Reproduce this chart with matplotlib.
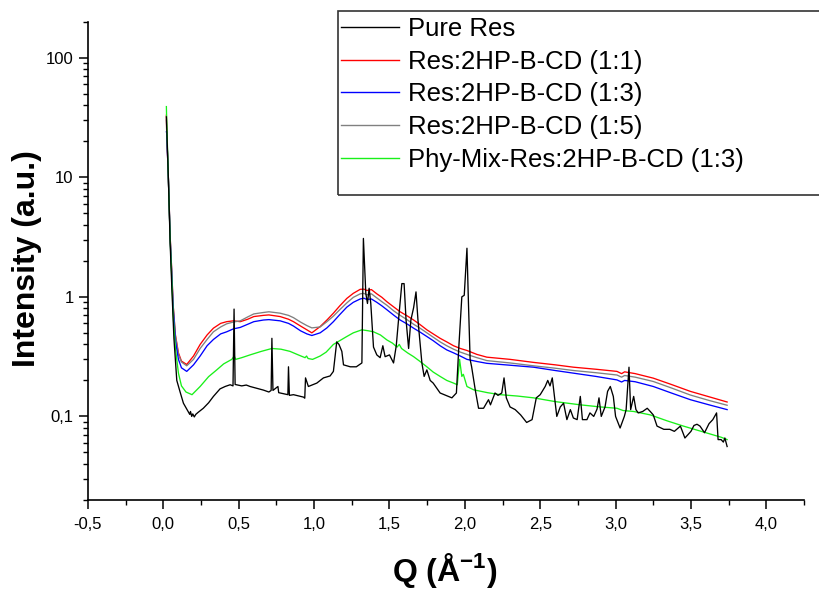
import matplotlib
matplotlib.use("Agg")
import matplotlib.pyplot as plt
from matplotlib.ticker import FixedLocator, FuncFormatter, LogLocator, NullFormatter, MultipleLocator
from matplotlib.patches import Rectangle

# ---------------- data ----------------
labels = ["Pure Res", "Res:2HP-B-CD (1:1)", "Res:2HP-B-CD (1:3)",
          "Res:2HP-B-CD (1:5)", "Phy-Mix-Res:2HP-B-CD (1:3)"]
colors = ["#000000", "#ff0000", "#0000ff", "#808080", "#19f019"]

q_black = [0.020, 0.033, 0.045, 0.056, 0.070, 0.089, 0.111, 0.133, 0.160, 0.175, 0.180, 0.188, 0.195, 0.205,
           0.215, 0.230, 0.265, 0.300, 0.332, 0.376, 0.410, 0.443, 0.462, 0.469, 0.476, 0.520, 0.550, 0.575,
           0.620, 0.664, 0.700, 0.715, 0.720, 0.727, 0.760, 0.765, 0.796, 0.826, 0.830, 0.836, 0.863, 0.900,
           0.930, 0.938, 0.943, 0.962, 1.018, 1.062, 1.106, 1.128, 1.150, 1.165, 1.184, 1.195, 1.240, 1.280,
           1.317, 1.327, 1.343, 1.354, 1.365, 1.376, 1.394, 1.416, 1.438, 1.456, 1.471, 1.500, 1.527, 1.545,
           1.560, 1.582, 1.597, 1.610, 1.627, 1.642, 1.660, 1.676, 1.689, 1.715, 1.730, 1.748, 1.770, 1.790,
           1.836, 1.880, 1.914, 1.944, 1.960, 1.980, 1.996, 2.014, 2.024, 2.035, 2.045, 2.069, 2.091, 2.124,
           2.157, 2.170, 2.200, 2.220, 2.245, 2.260, 2.275, 2.300, 2.334, 2.370, 2.410, 2.446, 2.474, 2.500,
           2.533, 2.550, 2.565, 2.580, 2.600, 2.610, 2.633, 2.655, 2.677, 2.700, 2.720, 2.745, 2.766, 2.780,
           2.810, 2.830, 2.855, 2.877, 2.890, 2.905, 2.930, 2.947, 2.965, 2.985, 3.000, 3.030, 3.058, 3.070,
           3.089, 3.100, 3.120, 3.135, 3.150, 3.180, 3.210, 3.230, 3.250, 3.275, 3.320, 3.360, 3.390, 3.430,
           3.460, 3.500, 3.520, 3.540, 3.560, 3.590, 3.620, 3.645, 3.670, 3.680, 3.700, 3.715, 3.725, 3.740]
i_black = [32, 10, 2.8, 1.2, 0.45, 0.20, 0.16, 0.129, 0.112, 0.104, 0.110, 0.100, 0.105, 0.099,
           0.104, 0.108, 0.117, 0.130, 0.147, 0.170, 0.178, 0.184, 0.180, 0.79, 0.185, 0.180, 0.183, 0.178,
           0.172, 0.166, 0.160, 0.165, 0.45, 0.165, 0.178, 0.158, 0.155, 0.152, 0.26, 0.150, 0.152, 0.148,
           0.145, 0.142, 0.21, 0.178, 0.190, 0.210, 0.218, 0.238, 0.42, 0.40, 0.35, 0.27, 0.26, 0.26,
           0.28, 3.08, 1.07, 0.88, 1.18, 0.88, 0.38, 0.327, 0.31, 0.39, 0.316, 0.327, 0.28, 0.39,
           0.64, 1.29, 1.29, 0.64, 0.37, 0.64, 0.81, 1.10, 0.64, 0.28, 0.216, 0.245, 0.20, 0.19,
           0.157, 0.149, 0.143, 0.157, 0.38, 1.00, 1.03, 2.55, 0.88, 0.30, 0.26, 0.167, 0.117, 0.117,
           0.138, 0.125, 0.157, 0.150, 0.157, 0.21, 0.143, 0.120, 0.114, 0.103, 0.089, 0.094, 0.143, 0.152,
           0.178, 0.20, 0.18, 0.21, 0.129, 0.100, 0.120, 0.129, 0.094, 0.114, 0.097, 0.094, 0.147, 0.094,
           0.094, 0.107, 0.100, 0.115, 0.143, 0.100, 0.120, 0.162, 0.178, 0.147, 0.100, 0.080, 0.100, 0.114,
           0.258, 0.114, 0.147, 0.114, 0.107, 0.110, 0.117, 0.110, 0.103, 0.083, 0.078, 0.078, 0.075, 0.083,
           0.066, 0.075, 0.084, 0.086, 0.083, 0.073, 0.087, 0.094, 0.107, 0.064, 0.064, 0.061, 0.066, 0.056]

q_std = [0.020, 0.022, 0.033, 0.045, 0.056, 0.065, 0.080, 0.100, 0.120, 0.155, 0.200, 0.244, 0.290, 0.332,
         0.380, 0.420, 0.465, 0.510, 0.560, 0.600, 0.664, 0.700, 0.775, 0.830, 0.863, 0.910, 0.952, 0.985,
         1.040, 1.085, 1.128, 1.170, 1.217, 1.260, 1.306, 1.330, 1.350, 1.380, 1.416, 1.450, 1.483, 1.530,
         1.571, 1.620, 1.660, 1.700, 1.748, 1.790, 1.836, 1.880, 1.925, 1.970, 2.014, 2.080, 2.146, 2.300,
         2.456, 2.600, 2.721, 2.870, 3.009, 3.040, 3.060, 3.130, 3.250, 3.370, 3.496, 3.620, 3.740]
i_red = [33, 24, 10, 3.2, 1.6, 0.85, 0.48, 0.34, 0.29, 0.272, 0.32, 0.40, 0.48, 0.547,
         0.60, 0.62, 0.63, 0.62, 0.65, 0.684, 0.70, 0.706, 0.684, 0.65, 0.62, 0.57, 0.53, 0.50,
         0.564, 0.64, 0.73, 0.84, 0.97, 1.07, 1.156, 1.16, 1.13, 1.15, 1.06, 0.99, 0.91, 0.82,
         0.75, 0.69, 0.64, 0.59, 0.53, 0.49, 0.45, 0.42, 0.39, 0.37, 0.356, 0.33, 0.313, 0.30,
         0.283, 0.27, 0.258, 0.248, 0.238, 0.228, 0.236, 0.228, 0.209, 0.185, 0.162, 0.146, 0.132]
i_gray = [30, 24, 10, 3.2, 1.6, 0.85, 0.47, 0.33, 0.285, 0.265, 0.30, 0.37, 0.44, 0.51,
          0.56, 0.595, 0.616, 0.63, 0.68, 0.72, 0.74, 0.75, 0.73, 0.70, 0.67, 0.615, 0.575, 0.55,
          0.56, 0.62, 0.69, 0.78, 0.89, 0.99, 1.06, 1.07, 1.04, 1.06, 0.98, 0.91, 0.85, 0.76,
          0.70, 0.64, 0.59, 0.55, 0.50, 0.46, 0.42, 0.39, 0.365, 0.345, 0.33, 0.31, 0.293, 0.28,
          0.265, 0.253, 0.242, 0.232, 0.222, 0.213, 0.220, 0.213, 0.196, 0.173, 0.151, 0.136, 0.124]
i_blue = [24, 24, 10, 3.1, 1.5, 0.80, 0.43, 0.30, 0.255, 0.238, 0.27, 0.32, 0.39, 0.44,
          0.49, 0.51, 0.54, 0.555, 0.59, 0.62, 0.64, 0.645, 0.63, 0.60, 0.57, 0.52, 0.49, 0.475,
          0.50, 0.55, 0.62, 0.71, 0.82, 0.90, 0.96, 0.975, 0.95, 0.96, 0.90, 0.84, 0.78, 0.70,
          0.64, 0.59, 0.547, 0.51, 0.466, 0.43, 0.39, 0.36, 0.34, 0.32, 0.30, 0.288, 0.278, 0.268,
          0.258, 0.242, 0.230, 0.216, 0.202, 0.194, 0.200, 0.195, 0.178, 0.157, 0.138, 0.125, 0.114]

q_green = [0.020, 0.022, 0.033, 0.045, 0.056, 0.065, 0.080, 0.100, 0.120, 0.150, 0.190, 0.244, 0.300,
           0.354, 0.400, 0.454, 0.470, 0.480, 0.520, 0.575, 0.650, 0.720, 0.780, 0.840, 0.900, 0.940,
           0.950, 0.960, 0.990, 1.040, 1.080, 1.128, 1.170, 1.217, 1.260, 1.317, 1.360, 1.394, 1.440,
           1.483, 1.520, 1.550, 1.565, 1.580, 1.620, 1.660, 1.700, 1.748, 1.790, 1.836, 1.880, 1.925,
           1.950, 1.965, 1.980, 1.990, 2.014, 2.058, 2.150, 2.235, 2.350, 2.456, 2.600, 2.766, 2.900,
           3.009, 3.050, 3.120, 3.230, 3.340, 3.450, 3.600, 3.700, 3.740]
i_green = [39, 30, 10, 3.0, 1.4, 0.70, 0.37, 0.23, 0.18, 0.16, 0.152, 0.178, 0.215,
           0.245, 0.275, 0.30, 0.32, 0.30, 0.31, 0.327, 0.35, 0.37, 0.365, 0.35, 0.325, 0.31,
           0.32, 0.305, 0.30, 0.32, 0.345, 0.40, 0.43, 0.466, 0.50, 0.53, 0.52, 0.51, 0.48,
           0.436, 0.41, 0.38, 0.40, 0.37, 0.34, 0.316, 0.29, 0.26, 0.235, 0.216, 0.20, 0.19,
           0.184, 0.30, 0.216, 0.225, 0.178, 0.167, 0.158, 0.152, 0.148, 0.143, 0.133, 0.125, 0.120,
           0.117, 0.112, 0.110, 0.103, 0.092, 0.083, 0.073, 0.067, 0.064]

x_ticks = [-0.5, 0.0, 0.5, 1.0, 1.5, 2.0, 2.5, 3.0, 3.5, 4.0]
y_ticks = [0.1, 1, 10, 100]

# ---------------- figure ----------------
plt.rcParams['font.family'] = ['Liberation Sans', 'DejaVu Sans']
plt.rcParams['mathtext.fontset'] = 'custom'
plt.rcParams['mathtext.rm'] = 'Liberation Sans'
plt.rcParams['mathtext.bf'] = 'Liberation Sans:bold'

fig = plt.figure(figsize=(8.2, 5.93), dpi=100)
ax = fig.add_axes([88/820, 1 - 500/593, (804-88)/820, (500-21.7)/593])

lw = 0.95
h_red, = ax.plot(q_std, i_red, color=colors[1], lw=lw)
h_gray, = ax.plot(q_std, i_gray, color=colors[3], lw=lw)
h_blue, = ax.plot(q_std, i_blue, color=colors[2], lw=lw)
h_green, = ax.plot(q_green, i_green, color=colors[4], lw=lw)
h_black, = ax.plot(q_black, i_black, color=colors[0], lw=lw)

ax.set_yscale('log')
ax.set_xlim(-0.5, 4.25)
ax.set_ylim(0.02, 200)

ax.xaxis.set_major_locator(FixedLocator(x_ticks))
ax.xaxis.set_minor_locator(MultipleLocator(0.25))
ax.xaxis.set_major_formatter(FuncFormatter(lambda v, p: f"{v:.1f}".replace('.', ',')))
ax.yaxis.set_major_locator(FixedLocator(y_ticks))
ax.yaxis.set_minor_locator(LogLocator(base=10, subs=range(2, 10)))
ax.yaxis.set_minor_formatter(NullFormatter())
ax.yaxis.set_major_formatter(FuncFormatter(lambda v, p: ("%g" % v).replace('.', ',')))

for s in ['top', 'right']:
    ax.spines[s].set_visible(False)
for s in ['left', 'bottom']:
    ax.spines[s].set_linewidth(1.2)
ax.tick_params(which='major', direction='out', length=6.3, width=1.1, labelsize=12, pad=4)
ax.tick_params(which='minor', direction='out', length=3.6, width=1.0)
ax.tick_params(axis='x', which='major', pad=6)

ylab = ax.set_ylabel("Intensity (a.u.)", fontsize=23, fontweight='bold')
ylab.set_va('center')
ax.yaxis.set_label_coords((27 - 88) / 716, (500 - 259) / 478.3)
xlab = ax.set_xlabel(r"Q (Å$^{\mathbf{-1}}$)", fontsize=23, fontweight='bold')
xlab.set_va('center')
ax.xaxis.set_label_coords((445 - 88) / 716, (500 - 571) / 478.3)

leg = ax.legend([h_black, h_red, h_blue, h_gray, h_green], labels,
                loc='upper left', bbox_to_anchor=(341/820, 1 - 17/593),
                bbox_transform=fig.transFigure, frameon=False, fontsize=18.5,
                handlelength=2.25, handletextpad=0.35, labelspacing=0.34,
                borderpad=0, borderaxespad=0)
for ln in leg.get_lines():
    ln.set_linewidth(1.0)

fig.patches.append(Rectangle((338/820, 1 - 195/593), (830-338)/820, (195-11)/593,
                             transform=fig.transFigure, fill=False, edgecolor='#333333',
                             linewidth=1.2, clip_on=False))

fig.savefig("out.png", dpi=100)
